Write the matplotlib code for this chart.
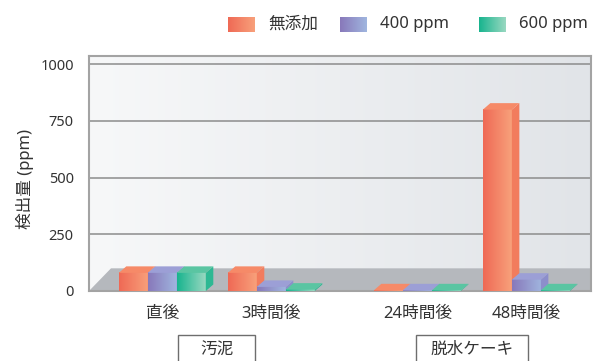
import numpy as np
import matplotlib
matplotlib.use("Agg")
import matplotlib.pyplot as plt
from matplotlib.colors import LinearSegmentedColormap
from matplotlib.patches import Polygon, Rectangle
from matplotlib import transforms

plt.rcParams['font.family'] = ['Noto Sans', 'Noto Sans CJK JP', 'DejaVu Sans']

# ---- data ----
categories = ["直後", "3時間後", "24時間後", "48時間後"]
groups = ["汚泥", "脱水ケーキ"]
group_members = [[0, 1], [2, 3]]
series = ["無添加", "400 ppm", "600 ppm"]
no_additive = [80, 80, 3, 800]
ppm400 = [80, 18, 3, 50]
ppm600 = [80, 6, 3, 3]
yticks = [0, 250, 500, 750, 1000]
ylabel = "検出量 (ppm)"

values = [no_additive, ppm400, ppm600]

# ---- layout ----
W, H = 595, 361
cat_pos = np.array([0.0, 1.0, 2.34, 3.34])   # category centres (x units)
px_x = 109.0                                  # pixels per x unit
ax_l, ax_r, ax_t, ax_b = 89, 591, 56, 291     # axes box in pixels
y_px = 226.7 / 1000                           # pixels per ppm
ymax = (ax_b - ax_t) / y_px
xmin = (ax_l - 162.3) / px_x
xmax = (ax_r - 162.3) / px_x

bar_w = 29 / px_x
dep_x = 7.5 / px_x
dep_y = 6.5 / y_px
floor_h = 100
floor_dx = 22 / px_x

# face gradient (left, right), top, side colours for each series
face_cols = [("#ef6955", "#f8a17b"), ("#8878ba", "#a0b6df"), ("#17b48e", "#9ad8c1")]
top_cols = ["#f68a68", "#9c9fd6", "#5ac5a2"]
side_cols = ["#f27c5d", "#8c8ecb", "#2db893"]

text_col = "#333333"
fs = 12

fig = plt.figure(figsize=(W / 100, H / 100), dpi=100)
ax = fig.add_axes([ax_l / W, 1 - ax_b / H, (ax_r - ax_l) / W, (ax_b - ax_t) / H])

# back wall gradient
wall_cmap = LinearSegmentedColormap.from_list("wall", ["#f7f8f9", "#e1e4e8"])
grad = np.linspace(0, 1, 256)[None, :]
ax.imshow(grad, extent=[xmin, xmax, 0, ymax], aspect='auto', cmap=wall_cmap,
          interpolation='bilinear', zorder=0)

# floor
floor = Polygon([(xmin, 0), (xmin + floor_dx, floor_h), (xmax, floor_h), (xmax, 0)],
                closed=True, facecolor="#b5b8bd", edgecolor="none", zorder=1)
ax.add_patch(floor)

# gridlines on the wall
ax.hlines(yticks[1:], xmin, xmax, colors="#8c8c8c", linewidth=1.1, zorder=1.5)

# 3D-style bars
z = 3.0
for i, cx in enumerate(cat_pos):
    left0 = cx - 1.5 * bar_w
    for j, vals in enumerate(values):
        v = vals[i]
        xl = left0 + j * bar_w
        xr = xl + bar_w
        cmap = LinearSegmentedColormap.from_list(f"s{j}", list(face_cols[j]))
        ax.imshow(grad, extent=[xl, xr, 0, v], aspect='auto', cmap=cmap,
                  interpolation='bilinear', zorder=z)
        side = Polygon([(xr, 0), (xr + dep_x, dep_y), (xr + dep_x, v + dep_y), (xr, v)],
                       closed=True, facecolor=side_cols[j], edgecolor="none", zorder=z + 0.001)
        top = Polygon([(xl, v), (xl + dep_x, v + dep_y), (xr + dep_x, v + dep_y), (xr, v)],
                      closed=True, facecolor=top_cols[j], edgecolor="none", zorder=z + 0.002)
        ax.add_patch(side)
        ax.add_patch(top)
        z += 0.01

ax.set_xlim(xmin, xmax)
ax.set_ylim(0, ymax)

for s in ax.spines.values():
    s.set_color("#a3a3a3")
    s.set_linewidth(1.5)
ax.spines['bottom'].set_zorder(2)

ax.set_yticks(yticks)
ax.set_yticklabels([str(t) for t in yticks])
ax.set_xticks(cat_pos)
ax.set_xticklabels(categories)
ax.tick_params(axis='y', length=0, pad=11, labelsize=10.5, labelcolor=text_col)
ax.tick_params(axis='x', length=0, pad=11, labelsize=fs, labelcolor=text_col)

fig.text(25 / W, 1 - 178.5 / H, ylabel, rotation=90, ha='center', va='center',
         fontsize=fs, color=text_col)

# group boxes below the category labels
bt = transforms.blended_transform_factory(ax.transData, fig.transFigure)
box_w_px = [77, 112]
for g, members, bw in zip(groups, group_members, box_w_px):
    gc = np.mean(cat_pos[members])
    wdat = bw / px_x
    ax.add_patch(Rectangle((gc - wdat / 2, -0.1), wdat, 0.1 + (1 - 335 / H),
                           transform=bt, facecolor="white", edgecolor="#6e6e6e",
                           linewidth=1.0, clip_on=False, zorder=10))
    ax.text(gc, 1 - 350 / H, g, transform=bt, ha='center', va='center',
            fontsize=fs, color=text_col, zorder=11)

# legend
lax = fig.add_axes([0, 0, 1, 1], zorder=5)
lax.set_xlim(0, W)
lax.set_ylim(H, 0)
lax.axis('off')
lax.patch.set_alpha(0)
leg_x = [228, 340, 479]
for name, lx, fc in zip(series, leg_x, face_cols):
    cmap = LinearSegmentedColormap.from_list("leg", list(fc))
    lax.imshow(grad, extent=[lx, lx + 27, 32, 17], aspect='auto', cmap=cmap,
               interpolation='bilinear')
    lax.text(lx + 40, 24.5, name, ha='left', va='center', fontsize=fs, color=text_col)
lax.set_xlim(0, W)
lax.set_ylim(H, 0)

fig.savefig("out.png", dpi=100)
